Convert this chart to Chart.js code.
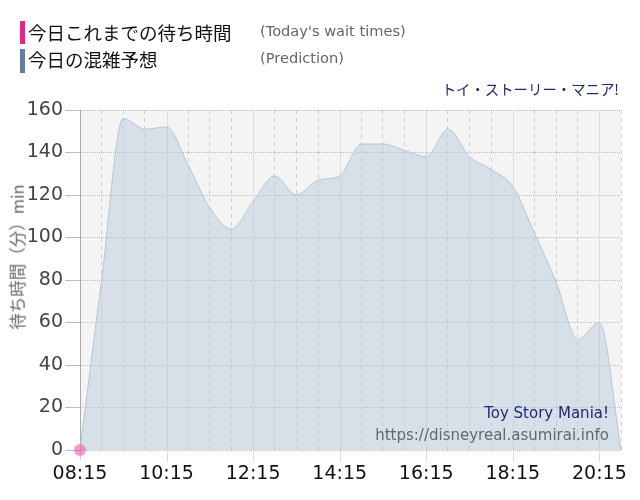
<!DOCTYPE html>
<html>
<head>
<meta charset="utf-8">
<script src="https://cdn.jsdelivr.net/npm/chart.js@4"></script>
<style>
  body { margin: 0; background: #fff; }
  #wrap { position: relative; width: 640px; height: 500px; font-family: 'DejaVu Sans', 'Noto Sans CJK JP', sans-serif; }
  canvas { position: absolute; left: 0; top: 0; }
  .txt { position: absolute; white-space: nowrap; line-height: 1; }
  .bar { position: absolute; width: 5px; }
  .jp { font-family: 'Noto Sans CJK JP', sans-serif; }
</style>
</head>
<body>
<div id="wrap">
  <canvas id="waitChart" width="640" height="500"></canvas>

  <!-- legend -->
  <div class="bar" style="left:20px; top:21px; height:23px; background:#f0208f;"></div>
  <div class="txt jp" style="left:28px; top:23px; font-size:18.5px; color:#111;">今日これまでの待ち時間</div>
  <div class="txt" style="left:260px; top:24px; font-size:14.6px; color:#666;">(Today's wait times)</div>
  <div class="bar" style="left:20px; top:49px; height:24px; background:#5f7ea8;"></div>
  <div class="txt jp" style="left:28px; top:50px; font-size:18.5px; color:#111;">今日の混雑予想</div>
  <div class="txt" style="left:260px; top:51px; font-size:14.6px; color:#666;">(Prediction)</div>

  <!-- labels -->
  <div class="txt jp" style="right:21px; top:82px; font-size:14.4px; color:#1f2a78;">トイ・ストーリー・マニア!</div>
  <div class="txt" style="right:31px; top:406px; font-size:15px; color:#1f2a78;">Toy Story Mania!</div>
  <div class="txt" style="right:31px; top:428px; font-size:15px; color:#666;">https://disneyreal.asumirai.info</div>
  <div class="txt jp" style="left:17px; top:257px; font-size:16.5px; color:#666; transform:translate(-50%,-50%) rotate(-90deg);">待ち時間（分）min</div>
</div>

<script>
/* ── Data ─────────────────────────────────────── */
const timeLabels = ['08:15','08:45','09:15','09:45','10:15','10:45','11:15','11:45','12:15','12:45',
  '13:15','13:45','14:15','14:45','15:15','15:45','16:15','16:45','17:15','17:45',
  '18:15','18:45','19:15','19:45','20:15','20:45'];
const predictionValues = [0, 80, 156, 151, 152, 134, 114, 104, 117, 129,
  120, 127, 129, 144, 144, 141, 138, 151, 138, 132,
  124, 102, 79, 52, 60, 0];
const todayValues = [0];
const yTicks = { min: 0, max: 160, step: 20 };
const majorEvery = 4; // label every 2 hours

/* ── Plot background + solid lines at labelled times ── */
const plotDecor = {
  id: 'plotDecor',
  beforeDraw(chart) {
    const { ctx, chartArea: a } = chart;
    ctx.save();
    ctx.fillStyle = '#f4f4f4';
    ctx.fillRect(a.left, a.top, a.right - a.left, a.bottom - a.top);
    ctx.restore();
  },
  beforeDatasetsDraw(chart) {
    const { ctx, chartArea: a, scales: { x } } = chart;
    ctx.save();
    ctx.strokeStyle = '#dcdcdc';
    ctx.lineWidth = 1;
    timeLabels.forEach((t, i) => {
      if (i % majorEvery !== 0 || i === 0) return;
      const px = Math.round(x.getPixelForValue(i)) + 0.5;
      ctx.beginPath();
      ctx.moveTo(px, a.top);
      ctx.lineTo(px, a.bottom + 12);
      ctx.stroke();
    });
    ctx.restore();
  }
};

Chart.defaults.font.family = "'DejaVu Sans', 'Noto Sans CJK JP', sans-serif";

new Chart(document.getElementById('waitChart').getContext('2d'), {
  type: 'line',
  data: {
    labels: timeLabels,
    datasets: [
      { label: '今日これまでの待ち時間', data: todayValues, pointRadius: 6, pointHoverRadius: 6,
        pointBackgroundColor: 'rgba(240,90,170,0.6)', pointBorderWidth: 0, showLine: false, clip: false },
      { label: '今日の混雑予想', data: predictionValues, fill: 'origin', cubicInterpolationMode: 'monotone',
        backgroundColor: 'rgba(180,200,220,0.45)', borderColor: '#b6c6d4', borderWidth: 1, pointRadius: 0 }
    ]
  },
  options: {
    responsive: false,
    animation: false,
    layout: { padding: { top: 110, right: 19, left: 0, bottom: 0 } },
    plugins: { legend: { display: false }, tooltip: { enabled: false } },
    scales: {
      x: {
        offset: false,
        afterFit: s => { s.height = 50; },
        grid: {
          color: ctx => (ctx.index % majorEvery === 0 ? 'rgba(0,0,0,0)' : '#cfcfcf'),
          tickColor: ctx => (ctx.index === 0 ? '#cfcfcf' : 'rgba(0,0,0,0)'),
          tickLength: 10
        },
        border: { display: false, dash: [4, 4] },
        ticks: {
          autoSkip: false, maxRotation: 0, padding: 3, color: '#111', font: { size: 19 },
          callback(v, i) { return i % majorEvery === 0 ? this.getLabelForValue(v) : ''; }
        }
      },
      y: {
        min: yTicks.min, max: yTicks.max,
        afterFit: s => { s.width = 80; },
        grid: { color: '#bdbdbd', tickLength: 15 },
        border: { display: true, color: '#aaa', dash: [1, 1] },
        ticks: { stepSize: yTicks.step, padding: 2, color: '#444', font: { size: 19 } }
      }
    }
  },
  plugins: [plotDecor]
});
</script>
</body>
</html>
